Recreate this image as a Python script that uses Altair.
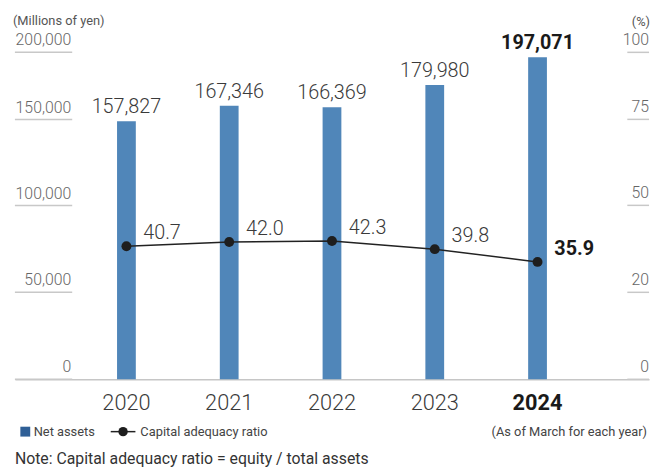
import altair as alt
import pandas as pd

# ---------------- data ----------------
years = ["2020", "2021", "2022", "2023", "2024"]
net_assets = [157827, 167346, 166369, 179980, 197071]          # millions of yen
capital_ratio = [40.7, 42.0, 42.3, 39.8, 35.9]                  # %
highlight_year = "2024"

left_tick_values = [0, 53200, 106300, 158900, 200000]
left_tick_labels = ["0", "50,000", "100,000", "150,000", "200,000"]
right_tick_values = [0, 26.6, 53.2, 79.5, 100]
right_tick_labels = ["0", "20", "50", "75", "100"]

FONT = "Roboto"
W, H = 642, 331
BAR_COLOR = "#5086b9"
LEGEND_BAR = "#2f5f96"

df = pd.DataFrame({"year": years, "net": net_assets, "ratio": capital_ratio})
df["net_label"] = [f"{v:,}" for v in net_assets]
df["ratio_label"] = [f"{v:.1f}" for v in capital_ratio]
df["hl"] = df["year"] == highlight_year

lt = pd.DataFrame({"v": left_tick_values, "label": left_tick_labels})
rt = pd.DataFrame({"v": right_tick_values, "label": right_tick_labels})

base = alt.Chart(df)

x_enc = alt.X(
    "year:N", sort=years, title=None,
    scale=alt.Scale(paddingInner=0, paddingOuter=0.585),
    axis=alt.Axis(
        domainColor="#c6c6c6", domainWidth=1.5, ticks=False, grid=False,
        labelAngle=0, labelFont=FONT, labelFontSize=22, labelPadding=14,
        labelColor={"condition": {"test": f"datum.value === '{highlight_year}'", "value": "#1a1a1a"}, "value": "#3a3a3a"},
        labelFontWeight={"condition": {"test": f"datum.value === '{highlight_year}'", "value": "bold"}, "value": 300},
    ),
)
y_net = alt.Y("net:Q", scale=alt.Scale(domain=[0, 200000], nice=False), axis=None)
y_ratio = alt.Y("ratio:Q", scale=alt.Scale(domain=[0, 100], nice=False), axis=None)

bars = base.mark_bar(size=19, color=BAR_COLOR).encode(x=x_enc, y=y_net)
bar_lab = base.transform_filter("!datum.hl").mark_text(
    font=FONT, fontSize=20, fontWeight=300, color="#3a3a3a", baseline="alphabetic", dy=-8
).encode(x=x_enc, y=y_net, text="net_label:N")
bar_lab_hl = base.transform_filter("datum.hl").mark_text(
    font=FONT, fontSize=20, fontWeight="bold", color="#1a1a1a", baseline="alphabetic", dy=-8
).encode(x=x_enc, y=y_net, text="net_label:N")

line = base.mark_line(color="#222222", strokeWidth=1.5).encode(x=x_enc, y=y_ratio)
pts = base.mark_circle(size=100, color="#1e1e1e", opacity=1).encode(x=x_enc, y=y_ratio)
r_lab = base.transform_filter("!datum.hl").mark_text(
    font=FONT, fontSize=20, fontWeight=300, color="#3a3a3a", align="left", baseline="alphabetic", dx=17, dy=-7
).encode(x=x_enc, y=y_ratio, text="ratio_label:N")
r_lab_hl = base.transform_filter("datum.hl").mark_text(
    font=FONT, fontSize=20, fontWeight="bold", color="#1a1a1a", align="left", baseline="alphabetic", dx=17, dy=-7
).encode(x=x_enc, y=y_ratio, text="ratio_label:N")

# manual axes (short rules under labels)
yl = alt.Y("v:Q", scale=alt.Scale(domain=[0, 200000], nice=False), axis=None)
yr = alt.Y("v:Q", scale=alt.Scale(domain=[0, 100], nice=False), axis=None)
l_rules = alt.Chart(lt).mark_rule(color="#c8c8c8", strokeWidth=1.5).encode(
    x=alt.value(0), x2=alt.value(58), y=yl)
l_text = alt.Chart(lt).mark_text(
    font=FONT, fontSize=16, fontWeight=300, color="#666666", align="right", baseline="alphabetic", dy=-7
).encode(x=alt.value(57), y=yl, text="label:N")
r_rules = alt.Chart(rt).mark_rule(color="#c8c8c8", strokeWidth=1.5).encode(
    x=alt.value(620), x2=alt.value(642), y=yr)
r_text = alt.Chart(rt).mark_text(
    font=FONT, fontSize=16, fontWeight=300, color="#666666", align="right", baseline="alphabetic", dy=-7
).encode(x=alt.value(642), y=yr, text="label:N")

one = alt.Data(values=[{}])


def note(text, x, y, size=13, align="left", color="#444444", weight="normal", baseline="middle"):
    return alt.Chart(one).mark_text(
        text=text, font=FONT, fontSize=size, align=align, color=color, fontWeight=weight, baseline=baseline
    ).encode(x=alt.value(x), y=alt.value(y))


unit_l = note("(Millions of yen)", -2, -32, size=13, color="#555555")
unit_r = note("(%)", 643, -31, size=13, align="right", color="#555555")
leg_sq = alt.Chart(one).mark_square(size=100, color=LEGEND_BAR, opacity=1).encode(
    x=alt.value(10.5), y=alt.value(384))
leg_t1 = note("Net assets", 19, 384)
leg_ln = alt.Chart(one).mark_rule(color="#222222", strokeWidth=1.5).encode(
    x=alt.value(97), x2=alt.value(122), y=alt.value(384))
leg_pt = alt.Chart(one).mark_circle(size=90, color="#1e1e1e", opacity=1).encode(
    x=alt.value(109.5), y=alt.value(384))
leg_t2 = note("Capital adequacy ratio", 127, 384)
asof = note("(As of March for each year)", 640, 384, align="right")
foot = note("Note: Capital adequacy ratio = equity / total assets", 0, 417, size=16,
            color="#333333", baseline="alphabetic")

chart = alt.layer(
    l_rules, r_rules, bars, line, pts, bar_lab, bar_lab_hl, r_lab, r_lab_hl,
    l_text, r_text, unit_l, unit_r, leg_sq, leg_t1, leg_ln, leg_pt, leg_t2, asof, foot
).resolve_scale(y="independent").properties(
    width=W, height=H,
    padding={"left": 7, "top": 42, "right": 4, "bottom": 94},
    autosize=alt.AutoSizeParams(type="none"),
).configure_view(stroke=None)

chart.save("out.html", embed_options={"renderer": "svg", "actions": False})
